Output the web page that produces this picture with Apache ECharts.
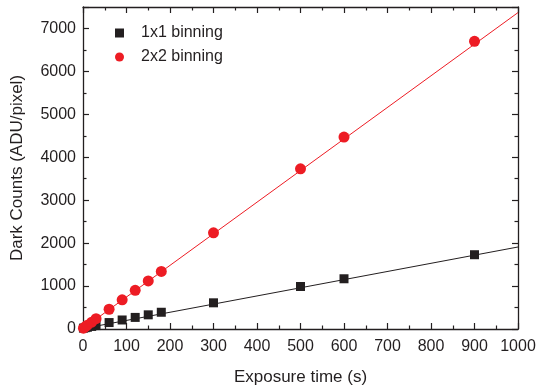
<!DOCTYPE html>
<html><head><meta charset="utf-8">
<script src="https://cdn.jsdelivr.net/npm/echarts@6/dist/echarts.min.js"></script>
<style>html,body{margin:0;padding:0;background:#fff}#c{width:539px;height:392px}</style>
</head><body><div id="c"></div>
<script>
const exposure = [1, 5, 10, 20, 30, 60, 90, 120, 150, 180, 300, 500, 600, 900];
const counts1x1 = [20, 30, 40, 60, 80, 150, 210, 270, 330, 390, 610, 990, 1170, 1730];
const counts2x2 = [20, 50, 90, 160, 240, 460, 680, 900, 1120, 1340, 2240, 3730, 4470, 6700];
const fitX = [0, 1000];
const fit1x1 = [10, 1910];
const fit2x2 = [10, 7370];
const xTicks = [0, 100, 200, 300, 400, 500, 600, 700, 800, 900, 1000];
const yTicks = [0, 1000, 2000, 3000, 4000, 5000, 6000, 7000];

const BLACK = '#231f20', RED = '#ed1c24';
const font = 'Liberation Sans, Arial, sans-serif';
const zip = (a, b) => a.map((v, i) => [v, b[i]]);

const chart = echarts.init(document.getElementById('c'));
const axisLine = {show: true, onZero: false, lineStyle: {color: '#231f20', width: 1.3}};
const tick = {show: true, inside: true, length: 6, lineStyle: {color: '#231f20', width: 1.2}};
const minor = {show: true, splitNumber: 2, length: 3.5, lineStyle: {color: '#231f20', width: 1.2}};
chart.setOption({
  animation: false,
  grid: {left: 83, right: 21, top: 7, bottom: 63},
  legend: {
    left: 110, top: 20, orient: 'vertical', itemGap: 8, itemWidth: 9, itemHeight: 9,
    data: [{name: '1x1 binning', icon: 'rect'}, {name: '2x2 binning', icon: 'circle'}],
    textStyle: {fontFamily: font, fontSize: 16, color: '#231f20', padding: [0, 0, 0, 12]}
  },
  xAxis: [{
    type: 'value', min: 0, max: 1000, interval: 100, position: 'bottom',
    name: 'Exposure time (s)', nameLocation: 'middle', nameGap: 40,
    nameTextStyle: {fontFamily: font, fontSize: 17, color: '#231f20'},
    axisLine, axisTick: tick, minorTick: minor, splitLine: {show: false},
    axisLabel: {fontFamily: font, fontSize: 16, color: '#231f20', margin: 10,
      formatter: v => xTicks.includes(v) ? String(v) : ''}
  }, {
    type: 'value', min: 0, max: 1000, interval: 100, position: 'top',
    axisLine, axisTick: tick, minorTick: minor, splitLine: {show: false}, axisLabel: {show: false}
  }],
  yAxis: [{
    type: 'value', min: 0, max: 7500, interval: 1000, position: 'left',
    name: 'Dark Counts (ADU/pixel)', nameLocation: 'middle', nameGap: 57,
    nameTextStyle: {fontFamily: font, fontSize: 17, color: '#231f20'},
    axisLine, axisTick: tick, minorTick: minor, splitLine: {show: false},
    axisLabel: {fontFamily: font, fontSize: 16, color: '#231f20', margin: 7, showMaxLabel: false,
      formatter: v => yTicks.includes(v) ? String(v) : ''}
  }, {
    type: 'value', min: 0, max: 7500, interval: 1000, position: 'right',
    axisLine, axisTick: tick, minorTick: minor, splitLine: {show: false}, axisLabel: {show: false}
  }],
  series: [
    {type: 'line', data: zip(fitX, fit1x1), symbol: 'none', lineStyle: {color: BLACK, width: 1}, silent: true, z: 1},
    {type: 'line', data: zip(fitX, fit2x2), symbol: 'none', lineStyle: {color: RED, width: 1}, silent: true, z: 1},
    {name: '1x1 binning', type: 'scatter', data: zip(exposure, counts1x1), symbol: 'rect', symbolSize: 9,
      itemStyle: {color: BLACK, opacity: 1}, z: 3},
    {name: '2x2 binning', type: 'scatter', data: zip(exposure, counts2x2), symbol: 'circle', symbolSize: 11,
      itemStyle: {color: RED, opacity: 1}, z: 3}
  ]
});
</script></body></html>
